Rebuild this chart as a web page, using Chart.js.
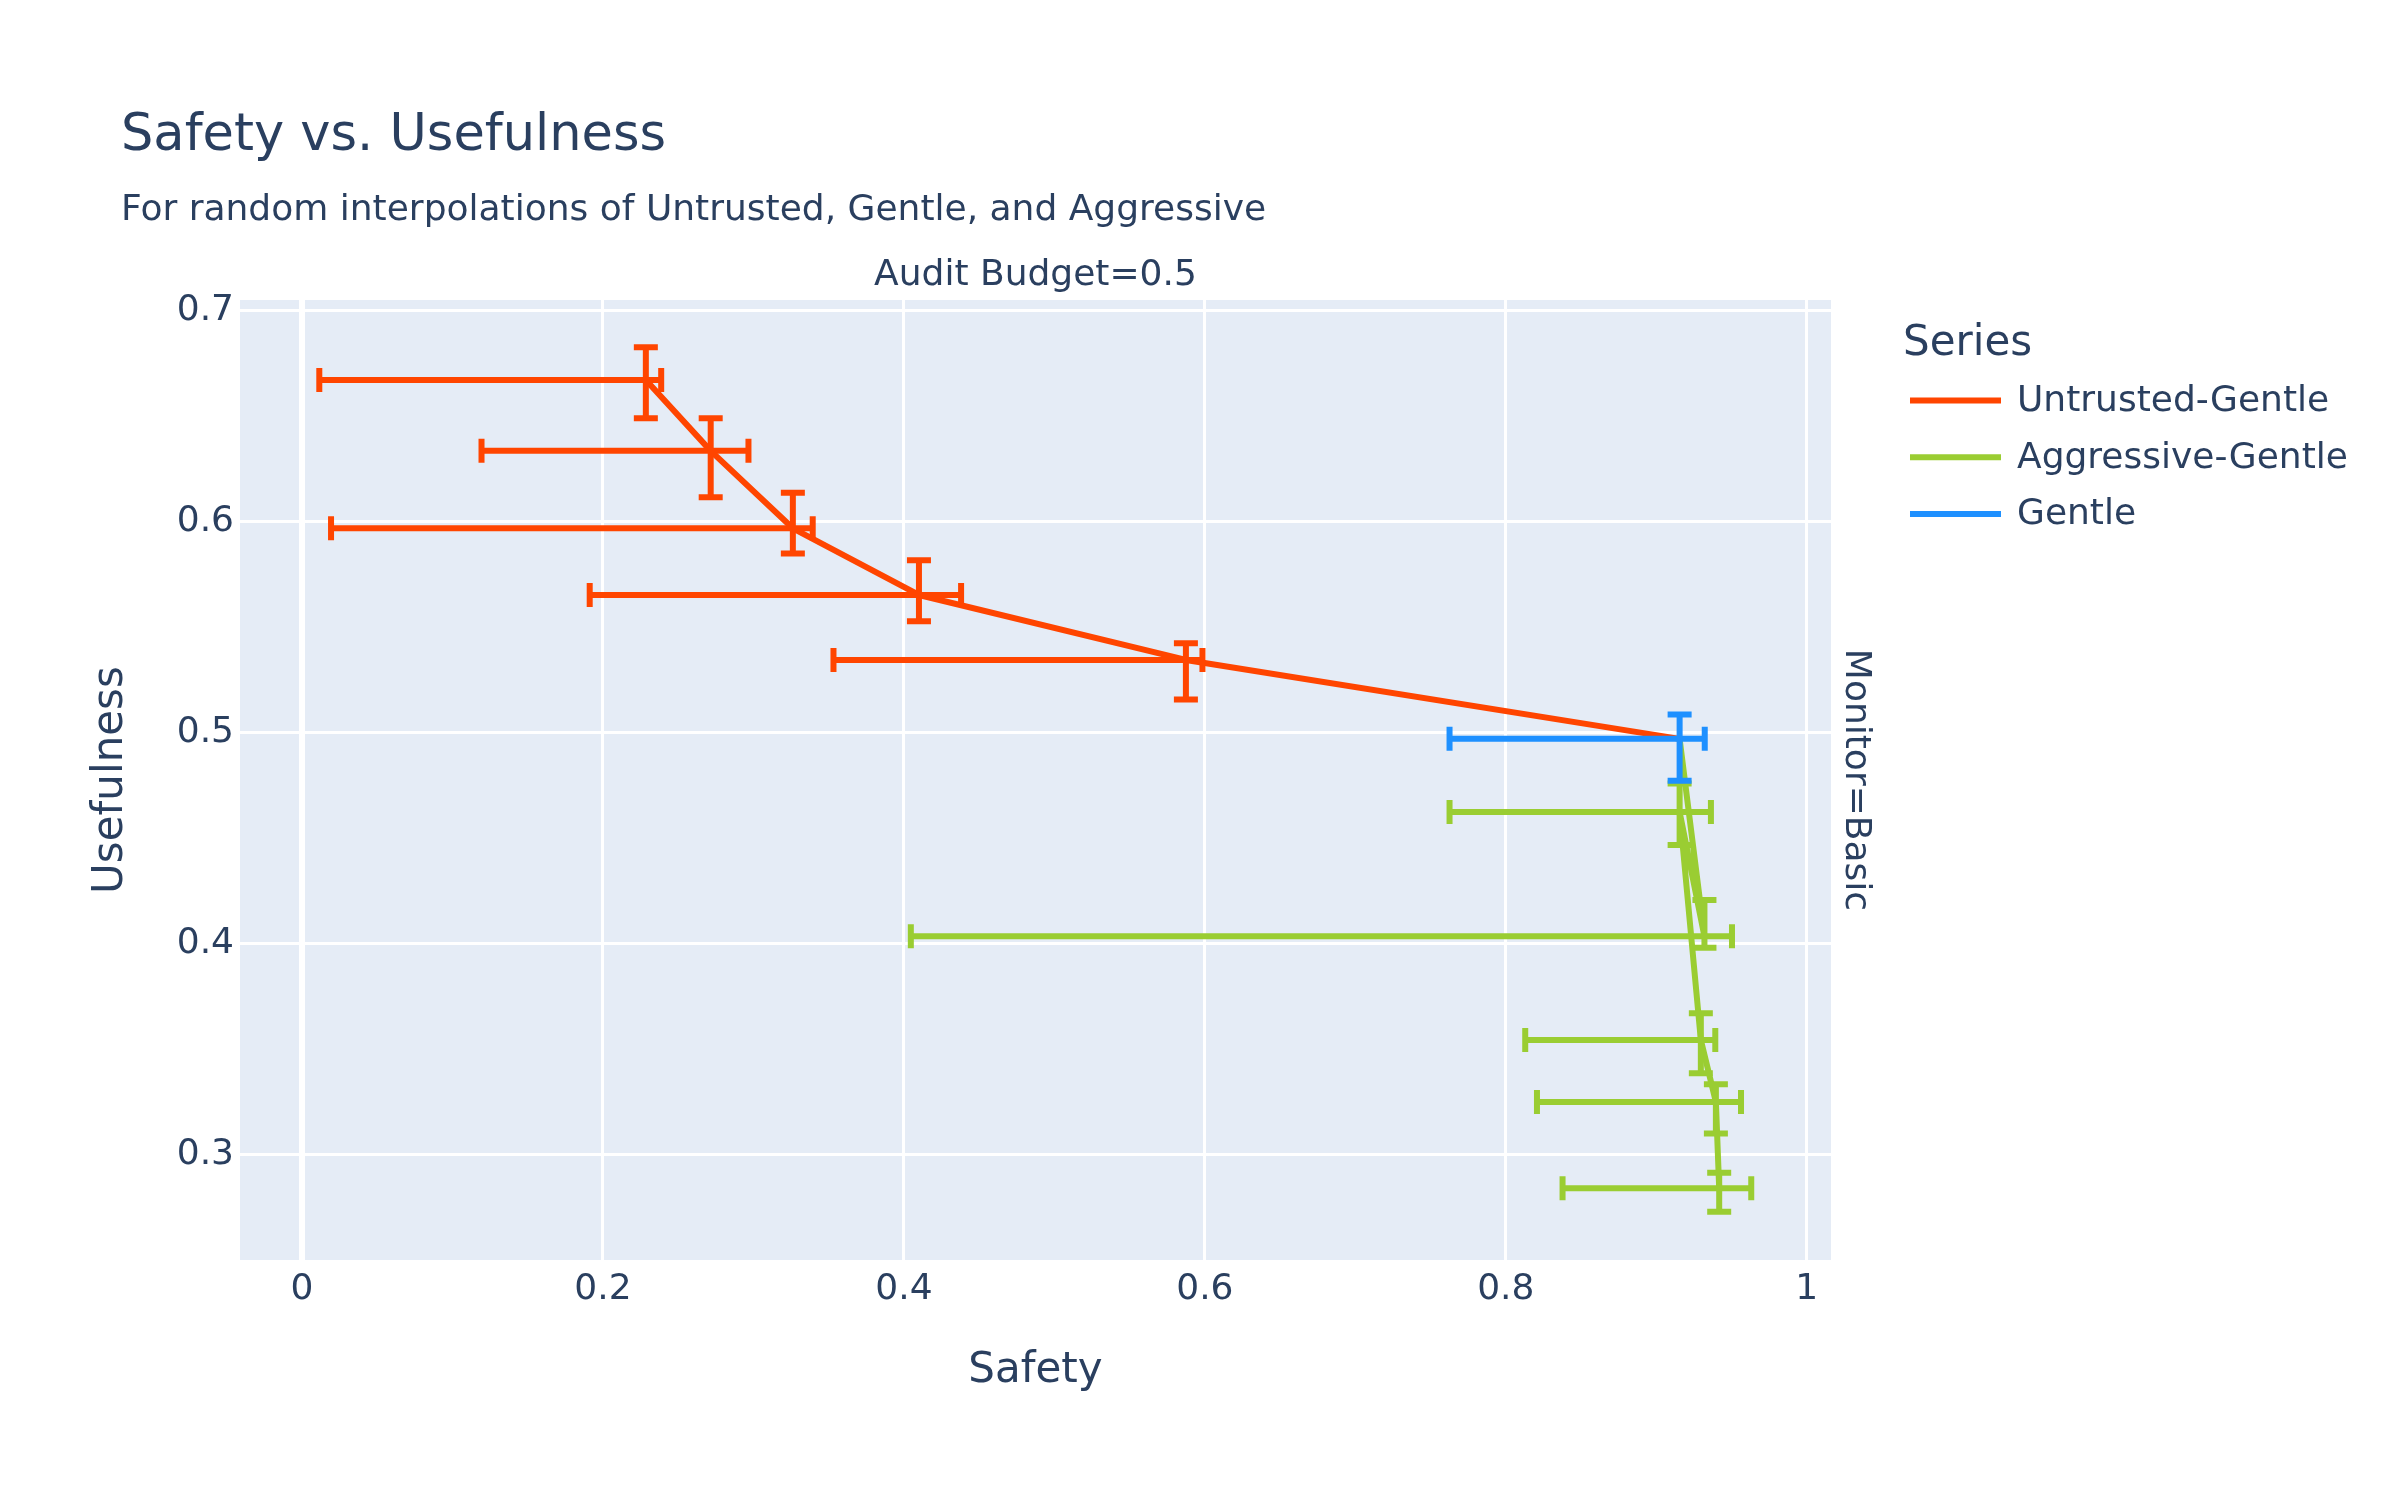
<!DOCTYPE html>
<html>
<head>
<meta charset="utf-8">
<title>Safety vs. Usefulness</title>
<script src="https://cdn.jsdelivr.net/npm/chart.js@4.4.1/dist/chart.umd.min.js"></script>
<style>
  html, body { margin: 0; padding: 0; background: #fff; }
  canvas { display: block; }
</style>
</head>
<body>
<canvas id="chart" width="2400" height="1500"></canvas>
<script>
'use strict';

const seriesNames = ['Untrusted-Gentle', 'Aggressive-Gentle', 'Gentle'];
const seriesColors = ['#FF4500', '#9ACD32', '#1E90FF'];

// Untrusted-Gentle (last point = pure Gentle, its bars sit under the blue ones)
const ugSafety = [0.2285, 0.2716, 0.3262, 0.4100, 0.5874, 0.9155];
const ugSafetyLow = [0.0115, 0.1193, 0.0193, 0.1912, 0.3532, null];
const ugSafetyHigh = [0.2387, 0.2967, 0.3394, 0.4380, 0.5984, null];
const ugUseful = [0.6672, 0.6336, 0.5969, 0.5653, 0.5345, 0.4971];
const ugUsefulLow = [0.6490, 0.6116, 0.5850, 0.5529, 0.5158, null];
const ugUsefulHigh = [0.6827, 0.6491, 0.6137, 0.5818, 0.5424, null];

// Aggressive-Gentle (first point = pure Gentle)
const agSafety = [0.9155, 0.9320, 0.9155, 0.9296, 0.9396, 0.9418];
const agSafetyLow = [null, 0.4046, 0.7626, 0.8129, 0.8207, 0.8377];
const agSafetyHigh = [null, 0.9503, 0.9363, 0.9392, 0.9563, 0.9631];
const agUseful = [0.4971, 0.4035, 0.4624, 0.3544, 0.3250, 0.2841];
const agUsefulLow = [null, 0.3981, 0.4468, 0.3386, 0.3101, 0.2730];
const agUsefulHigh = [null, 0.4207, 0.4759, 0.3670, 0.3334, 0.2915];

// Gentle
const gSafety = [0.9155];
const gSafetyLow = [0.7626];
const gSafetyHigh = [0.9322];
const gUseful = [0.4971];
const gUsefulLow = [0.4773];
const gUsefulHigh = [0.5086];

const xTickValues = [0, 0.2, 0.4, 0.6, 0.8, 1];
const yTickValues = [0.3, 0.4, 0.5, 0.6, 0.7];
const xRange = [-0.0412, 1.0161];
const yRange = [0.2501, 0.7051];

const textColor = '#2a3f5f';
const fontFamily = "'DejaVu Sans', sans-serif";

Chart.defaults.font.family = fontFamily;
Chart.defaults.color = textColor;

function points(xs, ys) {
    return xs.map((x, i) => ({ x: x, y: ys[i] }));
}

function makeDataset(idx, xs, ys, xl, xh, yl, yh, order) {
    return {
        label: seriesNames[idx],
        data: points(xs, ys),
        showLine: true,
        borderColor: seriesColors[idx],
        backgroundColor: seriesColors[idx],
        borderWidth: 6,
        borderJoinStyle: 'round',
        pointRadius: 0,
        pointHoverRadius: 0,
        tension: 0,
        order: order,
        errX: { low: xl, high: xh },
        errY: { low: yl, high: yh }
    };
}

const plotBackground = {
    id: 'plotBackground',
    beforeDraw(chart) {
        const a = chart.chartArea;
        const ctx = chart.ctx;
        ctx.save();
        ctx.fillStyle = '#E5ECF6';
        ctx.fillRect(a.left, a.top, a.right - a.left, a.bottom - a.top);
        ctx.restore();
    }
};

// error bars, drawn right after each dataset's line
const errorBars = {
    id: 'errorBars',
    afterDatasetDraw(chart, args) {
        const ds = chart.data.datasets[args.index];
        const xs = chart.scales.x;
        const ys = chart.scales.y;
        const ctx = chart.ctx;
        const half = 12;
        ctx.save();
        ctx.strokeStyle = ds.borderColor;
        ctx.lineWidth = 6;
        ctx.lineCap = 'butt';
        ds.data.forEach((p, i) => {
            const px = xs.getPixelForValue(p.x);
            const py = ys.getPixelForValue(p.y);
            if (ds.errY.low[i] != null) {
                const y0 = ys.getPixelForValue(ds.errY.low[i]);
                const y1 = ys.getPixelForValue(ds.errY.high[i]);
                ctx.beginPath();
                ctx.moveTo(px, y0); ctx.lineTo(px, y1);
                ctx.moveTo(px - half, y0); ctx.lineTo(px + half, y0);
                ctx.moveTo(px - half, y1); ctx.lineTo(px + half, y1);
                ctx.stroke();
            }
            if (ds.errX.low[i] != null) {
                const x0 = xs.getPixelForValue(ds.errX.low[i]);
                const x1 = xs.getPixelForValue(ds.errX.high[i]);
                ctx.beginPath();
                ctx.moveTo(x0, py); ctx.lineTo(x1, py);
                ctx.moveTo(x0, py - half); ctx.lineTo(x0, py + half);
                ctx.moveTo(x1, py - half); ctx.lineTo(x1, py + half);
                ctx.stroke();
            }
        });
        ctx.restore();
    }
};

const labels = {
    id: 'labels',
    afterDraw(chart) {
        const ctx = chart.ctx;
        const a = chart.chartArea;
        const midX = (a.left + a.right) / 2;
        const midY = (a.top + a.bottom) / 2;
        ctx.save();
        ctx.fillStyle = textColor;
        ctx.textAlign = 'left';
        ctx.textBaseline = 'alphabetic';

        ctx.font = '51px ' + fontFamily;
        ctx.fillText('Safety vs. Usefulness', 121, 150);
        ctx.font = '36px ' + fontFamily;
        ctx.fillText('For random interpolations of Untrusted, Gentle, and Aggressive', 121, 220);

        ctx.textAlign = 'center';
        ctx.fillText('Audit Budget=0.5', midX, 285);

        ctx.save();
        ctx.translate(1855, midY);
        ctx.rotate(Math.PI / 2);
        ctx.textBaseline = 'middle';
        ctx.fillText('Monitor=Basic', 0, 0);
        ctx.restore();

        // legend
        ctx.textAlign = 'left';
        ctx.font = '42px ' + fontFamily;
        ctx.fillText('Series', 1903, 355);
        ctx.font = '36px ' + fontFamily;
        ctx.textBaseline = 'middle';
        chart.data.datasets.forEach((ds, i) => {
            const y = 400.5 + i * 56.7;
            ctx.strokeStyle = ds.borderColor;
            ctx.lineWidth = 6;
            ctx.beginPath();
            ctx.moveTo(1910, y);
            ctx.lineTo(2001, y);
            ctx.stroke();
            ctx.fillStyle = textColor;
            ctx.fillText(ds.label, 2017, y + 1);
        });
        ctx.restore();
    }
};

new Chart(document.getElementById('chart'), {
    type: 'scatter',
    data: {
        datasets: [
            makeDataset(0, ugSafety, ugUseful, ugSafetyLow, ugSafetyHigh, ugUsefulLow, ugUsefulHigh, 3),
            makeDataset(1, agSafety, agUseful, agSafetyLow, agSafetyHigh, agUsefulLow, agUsefulHigh, 2),
            makeDataset(2, gSafety, gUseful, gSafetyLow, gSafetyHigh, gUsefulLow, gUsefulHigh, 1)
        ]
    },
    options: {
        responsive: false,
        animation: false,
        devicePixelRatio: 1,
        layout: { padding: { left: 0, right: 569, top: 300, bottom: 0 } },
        plugins: {
            legend: { display: false },
            title: { display: false },
            tooltip: { enabled: false }
        },
        scales: {
            x: {
                type: 'linear',
                min: xRange[0],
                max: xRange[1],
                afterBuildTicks: s => { s.ticks = xTickValues.map(v => ({ value: v })); },
                afterFit: s => { s.height = 240; },
                ticks: {
                    padding: 8,
                    font: { size: 36 },
                    color: textColor,
                    callback: v => String(+v.toFixed(2))
                },
                grid: {
                    color: '#ffffff',
                    lineWidth: c => (c.tick && c.tick.value === 0 ? 6 : 3),
                    drawTicks: false
                },
                border: { display: false },
                title: {
                    display: true,
                    text: 'Safety',
                    font: { size: 42 },
                    color: textColor,
                    padding: { top: 0, bottom: 104 }
                }
            },
            y: {
                type: 'linear',
                min: yRange[0],
                max: yRange[1],
                afterBuildTicks: s => { s.ticks = yTickValues.map(v => ({ value: v })); },
                afterFit: s => { s.width = 240; },
                ticks: {
                    padding: 6,
                    font: { size: 36 },
                    color: textColor,
                    callback: v => String(+v.toFixed(2))
                },
                grid: {
                    color: '#ffffff',
                    lineWidth: 3,
                    drawTicks: false
                },
                border: { display: false },
                title: {
                    display: true,
                    text: 'Usefulness',
                    font: { size: 42 },
                    color: textColor,
                    padding: { top: 86, bottom: 0 }
                }
            }
        }
    },
    plugins: [plotBackground, errorBars, labels]
});
</script>
</body>
</html>
